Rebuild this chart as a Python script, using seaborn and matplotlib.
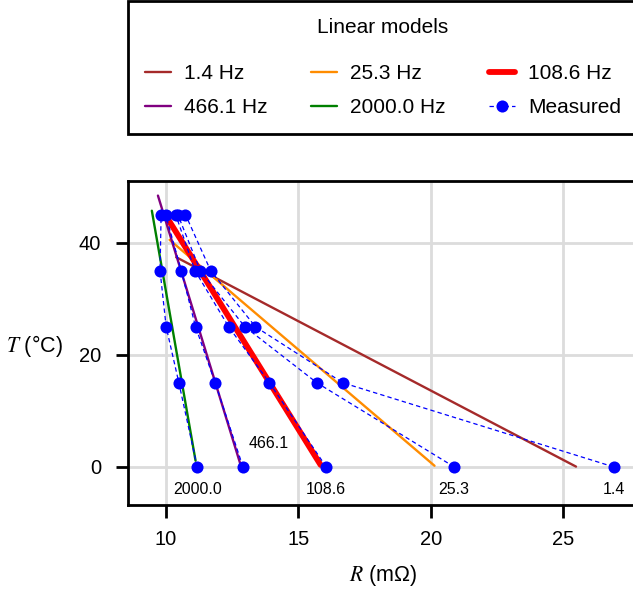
import numpy as np
import pandas as pd
import matplotlib
matplotlib.use("Agg")
import matplotlib.pyplot as plt
from matplotlib.lines import Line2D
import seaborn as sns

# ---------------- data ----------------
freqs = [1.4, 25.3, 108.6, 466.1, 2000.0]
freq_labels = ["1.4 Hz", "25.3 Hz", "108.6 Hz", "466.1 Hz", "2000.0 Hz"]
model_colors = ["brown", "darkorange", "red", "purple", "green"]

meas_T = [0, 15, 25, 35, 45]
meas_R_1_4 = [26.90, 16.68, 13.38, 11.69, 10.74]
meas_R_25_3 = [20.88, 15.70, 12.98, 11.30, 10.45]
meas_R_108_6 = [16.05, 13.91, 12.37, 11.10, 10.37]
meas_R_466_1 = [12.91, 11.86, 11.12, 10.58, 9.99]
meas_R_2000 = [11.18, 10.49, 10.01, 9.78, 9.82]
meas_R = [meas_R_1_4, meas_R_25_3, meas_R_108_6, meas_R_466_1, meas_R_2000]

# linear model end points (R, T) at low and high temperature
model_R_lo = [25.48, 20.14, 15.84, 12.82, 11.12]
model_T_lo = [0.05, 0.2, 0.35, 0.36, 1.1]
model_R_hi = [10.39, 10.14, 10.08, 9.70, 9.47]
model_T_hi = [37.4, 40.5, 44.2, 48.4, 45.7]

x_ticks = [10, 15, 20, 25]
y_ticks = [0, 20, 40]

# ---------------- style ----------------
sns.set_style("ticks")
plt.rcParams["font.family"] = ["Liberation Sans", "DejaVu Sans"]
plt.rcParams["mathtext.fontset"] = "stix"
for k in ["text.color", "axes.labelcolor", "xtick.color", "ytick.color", "axes.edgecolor"]:
    plt.rcParams[k] = "black"

fig = plt.figure(figsize=(6.33, 5.92), dpi=100)
W, H = 633, 592
ax_l, ax_r, ax_t, ax_b = 128, 638, 181, 505
ax = fig.add_axes([ax_l / W, 1 - ax_b / H, (ax_r - ax_l) / W, (ax_b - ax_t) / H])

# models
for i, f in enumerate(freqs):
    mdf = pd.DataFrame({"R": [model_R_lo[i], model_R_hi[i]],
                        "T": [model_T_lo[i], model_T_hi[i]]})
    sns.lineplot(data=mdf, x="R", y="T", sort=False, estimator=None, ax=ax,
                 color=model_colors[i], lw=4.2 if f == 108.6 else 1.7,
                 zorder=2, legend=False)

# measured
rows = []
for i, f in enumerate(freqs):
    for t, r in zip(meas_T, meas_R[i]):
        rows.append({"freq": f, "T": t, "R": r})
meas_df = pd.DataFrame(rows)
sns.lineplot(data=meas_df, x="R", y="T", units="freq", estimator=None, sort=False,
             ax=ax, color="blue", linestyle=(0, (3.5, 2.5)), lw=0.9, marker="o",
             markersize=8.7, markeredgewidth=0, zorder=3, legend=False)

# annotations
for i, f in enumerate(freqs):
    r0 = meas_R[i][0]
    if f == 466.1:
        ax.annotate(f"{f}", (r0, 0), xytext=(18.6, 16.6), textcoords="offset points",
                    ha="center", va="center", fontsize=11.5)
    else:
        ax.annotate(f"{f}", (r0, 0), xytext=(0, -16.6), textcoords="offset points",
                    ha="center", va="center", fontsize=11.5)

ax.set_xlim(8.57, 27.82)
ax.set_ylim(-6.8, 51.0)
ax.set_xticks(x_ticks)
ax.set_yticks(y_ticks)
ax.grid(True, color="#dcdcdc", linewidth=2)
ax.set_axisbelow(True)
for s in ax.spines.values():
    s.set_linewidth(2)
    s.set_color("black")
ax.tick_params(length=9, width=2, labelsize=14.5, color="black", labelcolor="black")
ax.tick_params(axis="x", pad=9)
ax.tick_params(axis="y", pad=10.5)

ax.set_xlabel("$R$ (mΩ)", fontsize=15.5, va="center")
ax.set_ylabel("$T$ (°C)", fontsize=15.5, rotation=0, ha="right", va="center")
ax.xaxis.set_label_coords(0.5, (ax_b - 576) / (ax_b - ax_t))
ax.yaxis.set_label_coords((63 - ax_l) / (ax_r - ax_l), 0.49)

# legend
handles = {}
for i, f in enumerate(freqs):
    handles[freq_labels[i]] = Line2D([], [], color=model_colors[i],
                                     lw=4.2 if f == 108.6 else 1.7)
handles["Measured"] = Line2D([], [], color="blue", linestyle=(0, (3.5, 2.5)), lw=0.9,
                             marker="o", markersize=8.7, markeredgewidth=0)
order = ["1.4 Hz", "466.1 Hz", "25.3 Hz", "2000.0 Hz", "108.6 Hz", "Measured"]
leg = fig.legend([handles[k] for k in order], order, title="Linear models",
                 loc="upper left", mode="expand", ncol=3,
                 bbox_to_anchor=(ax_l / W, 1 - 1 / H, (ax_r - ax_l) / W, 0.0),
                 borderaxespad=0, fontsize=15, title_fontsize=15,
                 frameon=True, fancybox=False, framealpha=1, edgecolor="black",
                 handlelength=1.25, handletextpad=0.65, borderpad=0.8,
                 labelspacing=0.7)
leg.get_frame().set_linewidth(2)
leg._legend_box.sep = 20

fig.savefig("out.png", dpi=100, facecolor="white")
